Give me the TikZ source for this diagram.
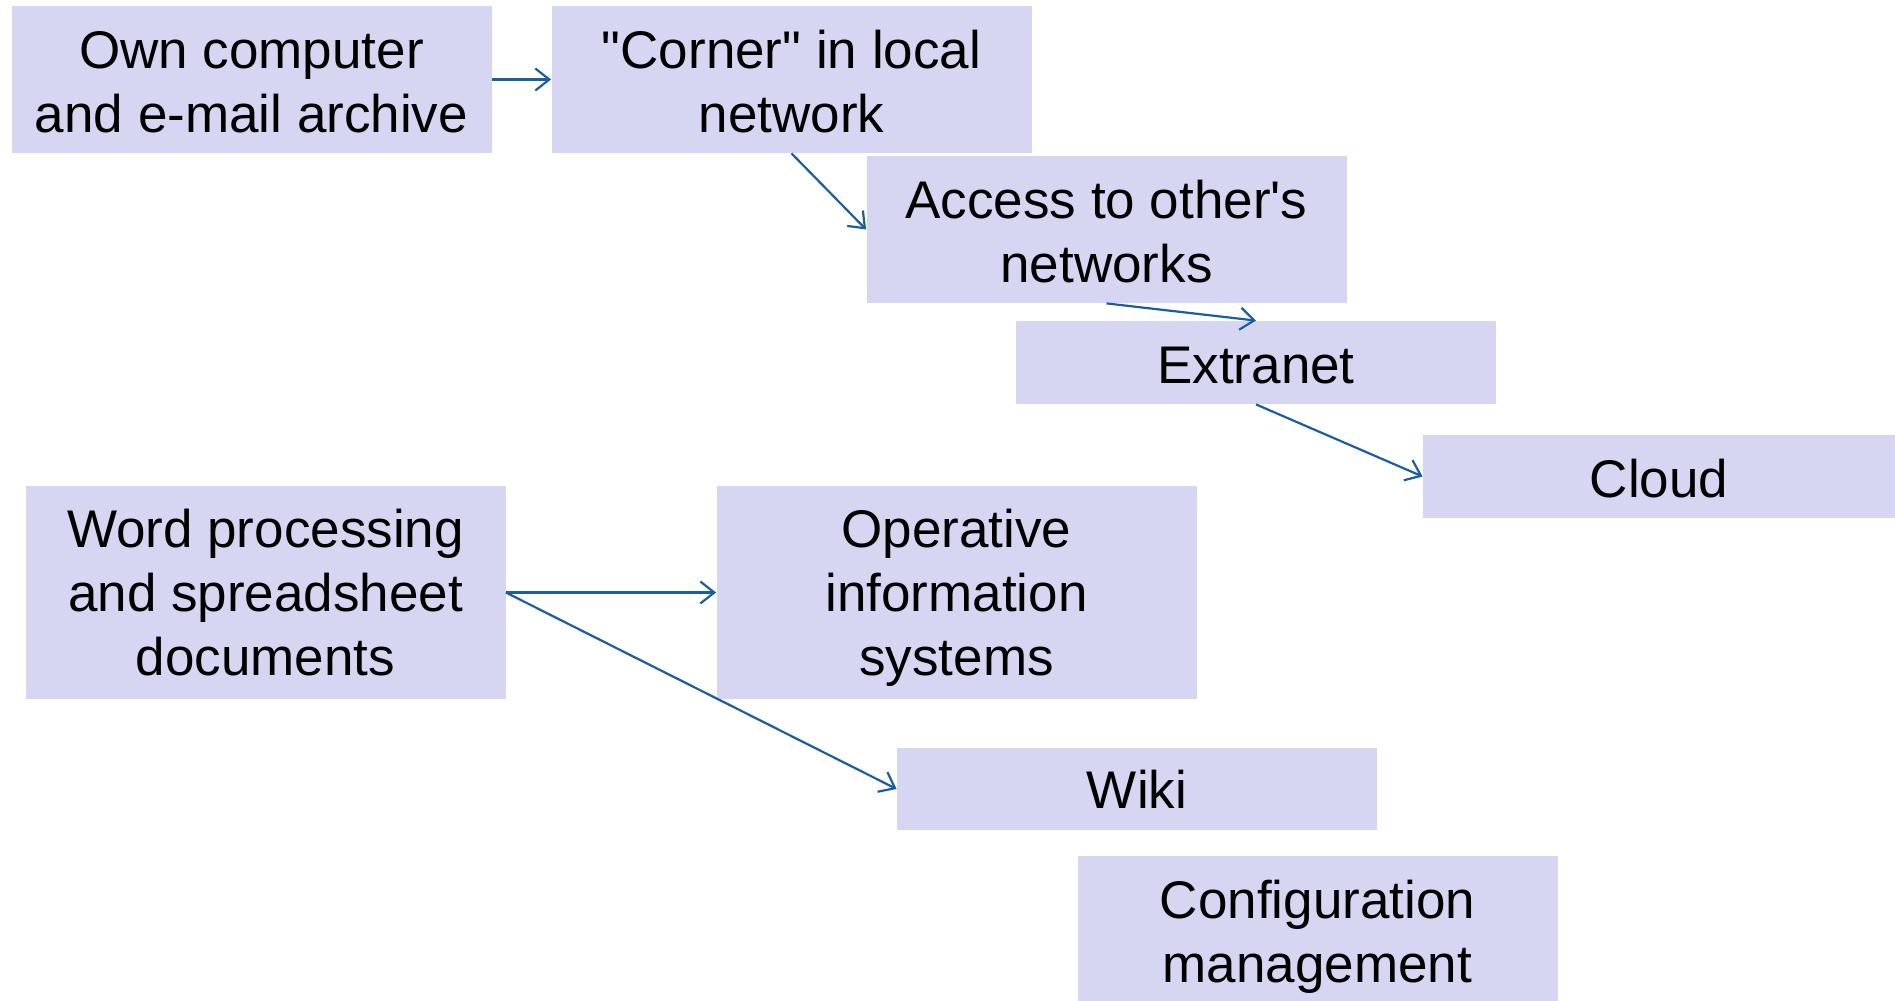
\documentclass[tikz,border=0pt]{standalone}
\usepackage{fontspec}
\setmainfont{Liberation Sans}[Ligatures=TeXOff]
\usetikzlibrary{arrows.meta}
\definecolor{boxfill}{RGB}{214,214,243}
\definecolor{arrowblue}{RGB}{27,94,160}
\newcommand\btext[2][4.2pt]{\raisebox{-#1}[\height][\depth]{\begin{tabular}{@{}c@{}}#2\end{tabular}}}
\tikzset{
  box/.style={fill=boxfill, draw=none, inner sep=0pt, minimum width=240pt,
    font=\fontsize{26.5}{32}\selectfont},
  conn/.style={draw=arrowblue, line width=1.1pt, -{Straight Barb[length=7pt,width=11pt,line width=1.1pt]}}
}
\begin{document}
\begin{tikzpicture}[x=0.5pt,y=-0.5pt]
\useasboundingbox (0,0) rectangle (1895,1001);
\node[box, minimum height=73.5pt] (own) at (251.5,79.5) {\btext{Own computer\\and e-mail archive}};
\node[box, minimum height=73.5pt] (corner) at (791.5,79.5) {\btext{"Corner" in local\\network}};
\node[box, minimum height=73.5pt] (access) at (1106.5,229.5) {\btext{Access to other's\\networks}};
\node[box, minimum height=41.5pt] (extranet) at (1256,362.5) {\btext[4pt]{Extranet}};
\node[box, minimum height=41.5pt, minimum width=236pt] (cloud) at (1659,476.5) {\btext[4pt]{Cloud}};
\node[box, minimum height=106.5pt] (word) at (265.5,592.5) {\btext[3.2pt]{Word processing\\and spreadsheet\\documents}};
\node[box, minimum height=106.5pt] (oper) at (956.5,592.5) {\btext[3.2pt]{Operative\\information\\systems}};
\node[box, minimum height=41pt] (wiki) at (1137,789) {\btext[3.4pt]{Wiki}};
\node[box, minimum height=72.5pt] (config) at (1317.5,928.5) {\btext[4.6pt]{Configuration\\management}};
\draw[conn] (own.east) -- (corner.west);
\draw[conn] (corner.south) -- (access.west);
\draw[conn] (access.south) -- (extranet.north);
\draw[conn] (extranet.south) -- (cloud.west);
\draw[conn] (word.east) -- (oper.west);
\draw[conn] (word.east) -- (wiki.west);
\end{tikzpicture}
\end{document}
